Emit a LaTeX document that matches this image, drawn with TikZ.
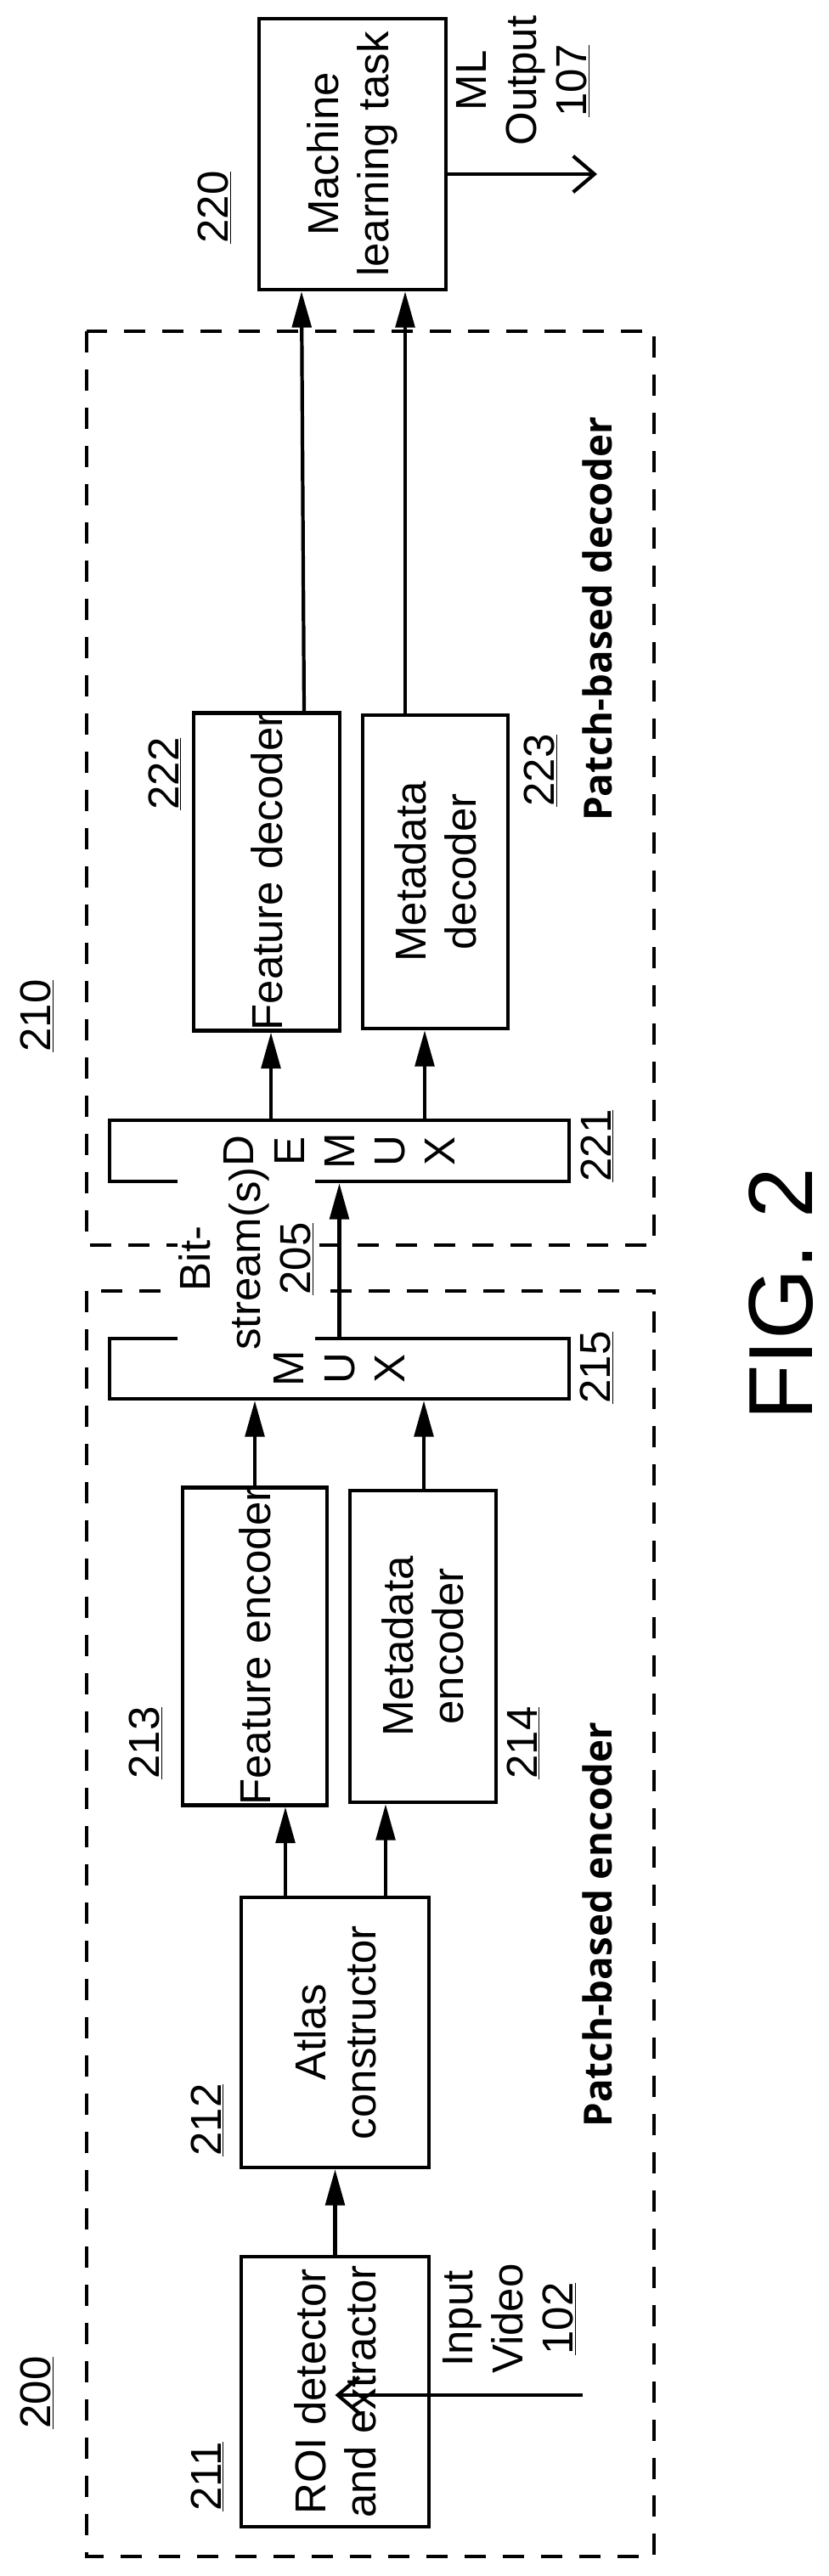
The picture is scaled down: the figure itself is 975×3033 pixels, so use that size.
\documentclass[tikz,border=0pt]{standalone}
\usepackage{fontspec}
\setmainfont{Liberation Sans}
\newfontfamily\labelfont{Open Sans}
\usetikzlibrary{arrows.meta,calc}

\tikzset{
  blk/.style={draw, rectangle, rotate=90, inner sep=0pt, align=center,
    font=\fontsize{29}{33.6}\selectfont},
  refnum/.style={rotate=90, inner sep=1pt, align=center,
    font=\fontsize{29}{33.6}\selectfont},
  arr/.style={-{Triangle[length=0.85cm,width=0.45cm]}},
  opn/.style={-{Straight Barb[length=0.5cm,width=0.85cm]}},
  grp/.style={dash pattern=on 0.5cm off 0.4cm}
}

\begin{document}
\begin{tikzpicture}[x=0.02cm, y=-0.02cm, line width=2.4pt]
  \useasboundingbox (0,0) rectangle (975,3033);

  % groups
  \draw[grp] (102,390) rectangle (770,1466);
  \draw[grp] (102,1520) rectangle (770,3010);

  % decoder side
  \node[blk, minimum width=319*0.02cm, minimum height=220*0.02cm] (ml) at (415,181.5) {Machine\\learning task};
  \node[blk, minimum width=369*0.02cm, minimum height=172*0.02cm] (fdec) at (314,1026.5) {Feature decoder};
  \node[blk, minimum width=369*0.02cm, minimum height=171*0.02cm] (mdec) at (512.5,1026.5) {Metadata\\decoder};
  \node[blk, minimum width=72*0.02cm, minimum height=541*0.02cm] (demux) at (399.5,1355) {D\\E\\M\\U\\X};

  % encoder side
  \node[blk, minimum width=71*0.02cm, minimum height=541*0.02cm] (mux) at (399.5,1611.5) {M\\U\\X};
  \node[blk, minimum width=367*0.02cm, minimum height=170*0.02cm] (fenc) at (300,1938.5) {Feature encoder};
  \node[blk, minimum width=367*0.02cm, minimum height=172*0.02cm] (menc) at (498,1938.5) {Metadata\\encoder};
  \node[blk, minimum width=318*0.02cm, minimum height=221*0.02cm] (atlas) at (394.5,2393) {Atlas\\constructor};
  \node[blk, minimum width=318*0.02cm, minimum height=221*0.02cm] (roi) at (394.5,2816) {ROI detector\\and extractor};

  % reference numbers
  \node[refnum] (n200) at (44,2817) {\underline{200}};
  \node[refnum] (n210) at (44,1196) {\underline{210}};
  \node[refnum] (n211) at (244,2916) {\underline{211}};
  \node[refnum] (n212) at (244,2496) {\underline{212}};
  \node[refnum] (n213) at (172,2052) {\underline{213}};
  \node[refnum] (n214) at (616,2052) {\underline{214}};
  \node[refnum] (n215) at (703,1610) {\underline{215}};
  \node[refnum] (n221) at (703,1349) {\underline{221}};
  \node[refnum] (n222) at (194,911) {\underline{222}};
  \node[refnum] (n223) at (637,907) {\underline{223}};
  \node[refnum] (n220) at (253,244) {\underline{220}};
  \node[rotate=90, font=\labelfont\bfseries\fontsize{26}{30}\selectfont] (encname) at (703,2266) {Patch-based encoder};
  \node[rotate=90, font=\labelfont\bfseries\fontsize{26}{30}\selectfont] (decname) at (703,729) {Patch-based decoder};

  % in / out
  \coordinate (vin) at (686,2820);
  \coordinate (mlout) at (703,205);
  \node[refnum] (invid) at (600,2730) {Input\\Video\\\underline{102}};
  \node[refnum] (outlbl) at (616,95) {ML\\Output\\\underline{107}};
  \draw[opn] (vin) -- (roi.west |- vin) ;
  \draw[opn] (ml.south |- mlout) -- (mlout);

  % connections
  \draw[arr] (roi.east) -- (atlas.west);
  \draw[arr] (atlas.east -| 336,0) -- (fenc.west -| 336,0);
  \draw[arr] (atlas.east -| 454,0) -- (menc.west -| 454,0);
  \draw[arr] (fenc.east -| 300,0) -- (mux.west -| 300,0);
  \draw[arr] (menc.east -| 499,0) -- (mux.west -| 499,0);
  \draw[arr] (mux.east) -- (demux.west);
  \draw[arr] (demux.east -| 319,0) -- (fdec.west -| 319,0);
  \draw[arr] (demux.east -| 500,0) -- (mdec.west -| 500,0);
  \draw[arr] (fdec.east -| 358,0) -- (ml.west -| 355,0);
  \draw[arr] (mdec.east -| 477,0) -- (ml.west -| 477,0);

  \node[refnum, fill=white] (bits) at (290,1482) {Bit-\\stream(s)\\\underline{205}};

  \node[rotate=90, font=\fontsize{61}{70}\selectfont] (fig) at (920,1524) {FIG. 2};
\end{tikzpicture}
\end{document}
